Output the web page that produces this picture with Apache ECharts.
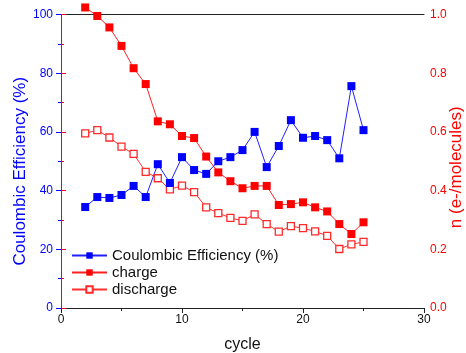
<!DOCTYPE html>
<html>
<head>
<meta charset="utf-8">
<script src="https://cdn.jsdelivr.net/npm/echarts@6/dist/echarts.min.js"></script>
<style>
html,body{margin:0;padding:0;background:#fff;}
#chart{width:466px;height:353px;}
</style>
</head>
<body>
<div id="chart"></div>
<script>
const cycles = [2,3,4,5,6,7,8,9,10,11,12,13,14,15,16,17,18,19,20,21,22,23,24,25];
const coulombicEfficiency = [34.4,37.8,37.5,38.5,41.6,37.8,49.0,42.6,51.4,47.0,45.7,50.0,51.4,53.8,60.0,48.0,55.2,64.0,58.0,58.6,57.2,51.0,75.6,60.6];
const charge = [1.024,0.995,0.956,0.893,0.817,0.763,0.636,0.626,0.586,0.579,0.516,0.462,0.432,0.408,0.416,0.416,0.351,0.354,0.360,0.343,0.329,0.286,0.252,0.292];
const discharge = [0.595,0.606,0.581,0.550,0.525,0.464,0.442,0.404,0.417,0.395,0.343,0.323,0.307,0.297,0.319,0.286,0.260,0.279,0.272,0.261,0.246,0.201,0.217,0.225];

const pair = (ys) => cycles.map((c,i)=>[c, ys[i]]);
const FONT = 'Liberation Sans, Arial, sans-serif';

const chart = echarts.init(document.getElementById('chart'), null, {renderer:'canvas'});
chart.setOption({
  animation: false,
  backgroundColor: '#fff',
  textStyle: {fontFamily: FONT},
  grid: {left: 61, right: 42, top: 14.5, bottom: 45, containLabel: false, outerBoundsMode: 'none'},
  legend: {
    orient: 'vertical', left: 66, top: 243,
    itemWidth: 35, itemHeight: 8, itemGap: 2,
    textStyle: {fontFamily: FONT, fontSize: 15, color: '#111'},
    data: ['Coulombic Efficiency (%)', 'charge', 'discharge']
  },
  xAxis: [{
    type: 'value', min: 0, max: 30, interval: 10,
    name: 'cycle', nameLocation: 'middle', nameGap: 29, nameMoveOverlap: false,
    nameTextStyle: {fontFamily: FONT, fontSize: 16, color: '#111'},
    axisLine: {show: true, lineStyle: {color: '#222', width: 1}},
    axisTick: {show: true, length: 5, lineStyle: {color: '#222'}},
    minorTick: {show: true, splitNumber: 2, length: 3, lineStyle: {color: '#222'}},
    axisLabel: {fontFamily: FONT, fontSize: 12, color: '#111', margin: 6},
    splitLine: {show: false}
  }, {
    type: 'value', min: 0, max: 30, position: 'top',
    axisLine: {show: true, onZero: false, lineStyle: {color: '#222', width: 1}},
    axisTick: {show: false}, axisLabel: {show: false}, splitLine: {show: false}
  }],
  yAxis: [{
    type: 'value', min: 0, max: 100, interval: 20, position: 'left',
    name: 'Coulombic Efficiency (%)', nameLocation: 'middle', nameGap: 32, nameRotate: 90, nameMoveOverlap: false,
    nameTextStyle: {fontFamily: FONT, fontSize: 17, color: '#0000ff', padding: [0, 20, 0, 0]},
    axisLine: {show: true, lineStyle: {color: '#0000ff', width: 1}},
    axisTick: {show: true, length: 5, lineStyle: {color: '#0000ff'}},
    minorTick: {show: true, splitNumber: 2, length: 3, lineStyle: {color: '#0000ff'}},
    axisLabel: {fontFamily: FONT, fontSize: 12, color: '#0000ff', margin: 8},
    splitLine: {show: false}
  }, {
    type: 'value', min: 0, max: 1.0, interval: 0.2, position: 'right',
    name: 'n (e-/molecules)', nameLocation: 'middle', nameGap: 24, nameRotate: 90, nameMoveOverlap: false,
    nameTextStyle: {fontFamily: FONT, fontSize: 17, color: '#ff0000', padding: [0, 12, 0, 0]},
    axisLine: {show: true, lineStyle: {color: '#ff0000', width: 1}},
    axisTick: {show: true, length: 5, lineStyle: {color: '#ff0000'}},
    minorTick: {show: true, splitNumber: 2, length: 3, lineStyle: {color: '#ff0000'}},
    axisLabel: {fontFamily: FONT, fontSize: 12, color: '#ff0000', margin: 6,
      formatter: (v)=>v.toFixed(1)},
    splitLine: {show: false}
  }],
  series: [{
    name: 'charge', type: 'line', yAxisIndex: 1, clip: false,
    data: pair(charge), symbol: 'rect', symbolSize: 8,
    itemStyle: {color: '#ff0000'}, lineStyle: {color: '#ff2020', width: 1}
  }, {
    name: 'discharge', type: 'line', yAxisIndex: 1, clip: false,
    data: pair(discharge), symbol: 'rect', symbolSize: 7,
    itemStyle: {color: '#ffffff', borderColor: '#ff2a2a', borderWidth: 1.3},
    lineStyle: {color: '#ff3030', width: 1}
  }, {
    name: 'Coulombic Efficiency (%)', type: 'line', yAxisIndex: 0, clip: false,
    data: pair(coulombicEfficiency), symbol: 'rect', symbolSize: 8,
    itemStyle: {color: '#0000ff'}, lineStyle: {color: '#2020ff', width: 1}
  }]
});
</script>
</body>
</html>
